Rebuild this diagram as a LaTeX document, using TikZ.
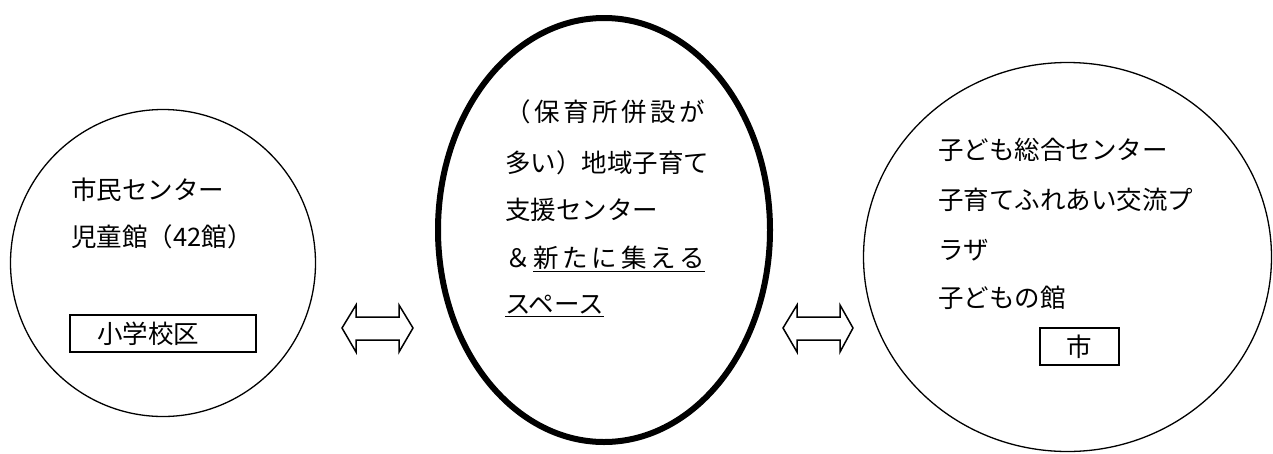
\documentclass[tikz,border=0pt]{standalone}
\usepackage{fontspec}
\newfontfamily\jp{Noto Sans CJK JP}
\usetikzlibrary{shapes.geometric}
\begin{document}
\begin{tikzpicture}[x=1pt,y=-1pt,
  txt/.style={anchor=west, inner sep=0pt, font=\jp\fontsize{25.5}{30}\selectfont},
  circ/.style={ellipse, draw, line width=1.3pt, inner sep=0pt},
  thickcirc/.style={ellipse, draw, line width=6pt, inner sep=0pt},
  tagbox/.style={draw, line width=1.2pt, inner sep=0pt, font=\jp\fontsize{25.5}{30}\selectfont},
  dblarrow/.style={draw, line width=1.5pt, line join=miter, fill=white}]
\useasboundingbox (0,0) rectangle (1273,453);
% circles
\node[circ, minimum width=305pt, minimum height=307pt] (L) at (163,263) {};
\node[thickcirc, minimum width=332pt, minimum height=424pt] (M) at (604,230) {};
\node[circ, minimum width=408pt, minimum height=389pt] (R) at (1067.5,257) {};
% left texts
\node[txt] (l1) at (71,190) {市民センター};
\node[txt] (l2) at (71,237) {児童館（42館）};
\node[tagbox, minimum width=186pt, minimum height=37pt, inner xsep=27pt, text width=132pt, align=left] (lbox) at (163,333.5) {小学校区};
% middle texts
\node[txt] (m1) at (505,112) {\makebox[200pt][s]{（\hfill 保\hfill 育\hfill 所\hfill 併\hfill 設\hfill が}};
\node[txt] (m2) at (505,163) {多い）地域子育て};
\node[txt] (m3) at (505,210) {支援センター};
\node[txt] (m4) at (505,259) {\makebox[28pt][l]{＆}\underline{\makebox[172pt][s]{新\hfill た\hfill に\hfill 集\hfill え\hfill る}}};
\node[txt] (m5) at (505,306) {\underline{スペース}};
% right texts
\node[txt] (r1) at (938,150) {子ども総合センター};
\node[txt] (r2) at (938,200) {子育てふれあい交流プ};
\node[txt] (r3) at (938,250) {ラザ};
\node[txt] (r4) at (938,298) {子どもの館};
\node[tagbox, minimum width=79pt, minimum height=37pt] (rbox) at (1079.5,346.5) {市};
% double arrows
\draw[dblarrow] (342,328) -- (356,305) -- (356,317) -- (399,317) -- (399,305) -- (413,328)
  -- (399,352) -- (399,340) -- (356,340) -- (356,352) -- cycle;
\draw[dblarrow] (783,328) -- (797,305) -- (797,317) -- (840,317) -- (840,305) -- (853,328)
  -- (840,352) -- (840,340) -- (797,340) -- (797,352) -- cycle;
\end{tikzpicture}
\end{document}
